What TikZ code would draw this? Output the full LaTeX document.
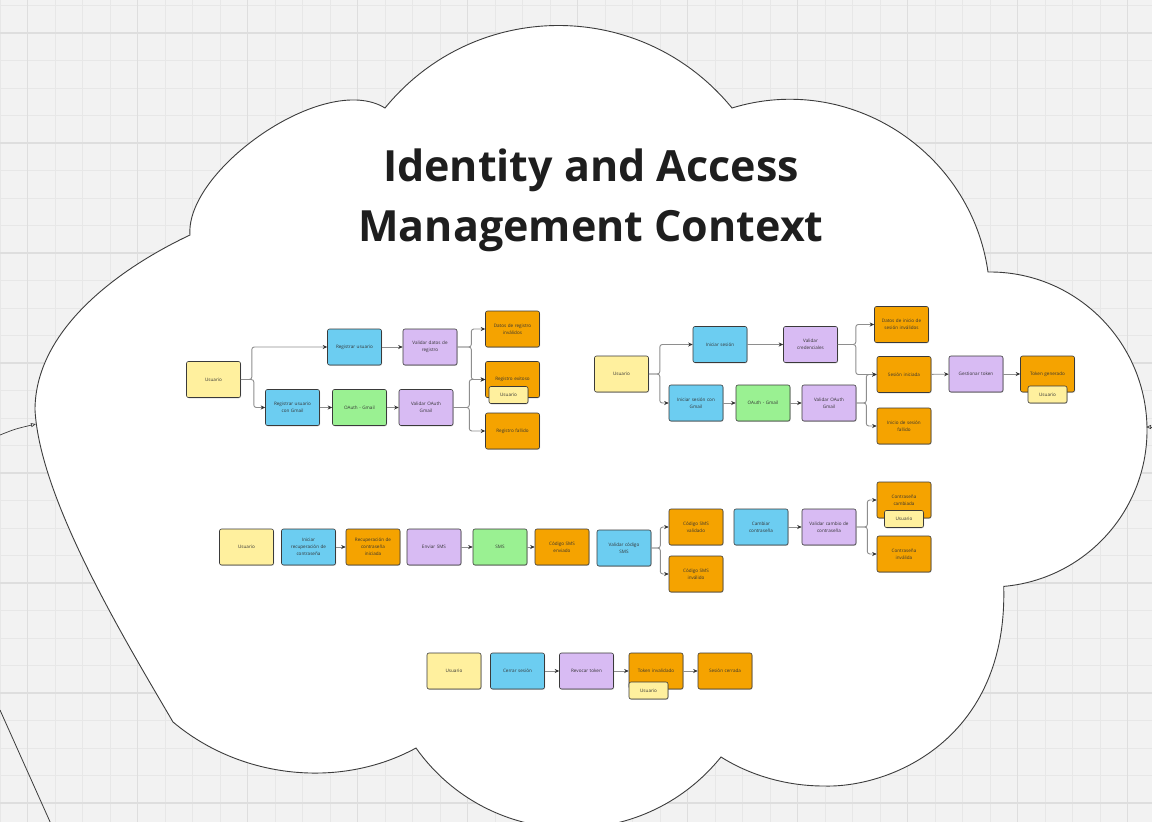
\documentclass[tikz,border=0pt]{standalone}
\usepackage{fontspec}
\setmainfont{Open Sans}
\usetikzlibrary{arrows.meta,shadows}
\definecolor{bgc}{HTML}{F2F2F2}
\definecolor{gridc}{HTML}{E7E7E7}
\definecolor{gridm}{HTML}{DEDEDE}
\definecolor{cloudc}{HTML}{3C3C3C}
\definecolor{titlec}{HTML}{1E1E1E}
\definecolor{boxline}{HTML}{3A3A3A}
\definecolor{txtc}{HTML}{333333}
\definecolor{yellowc}{HTML}{FFF09E}
\definecolor{bluec}{HTML}{6CCDF1}
\definecolor{greenc}{HTML}{9AF192}
\definecolor{purplec}{HTML}{D8BBF3}
\definecolor{orangec}{HTML}{F5A300}
\definecolor{linec}{HTML}{8E8E8E}
\definecolor{arrowc}{HTML}{333333}
\newcommand{\boxfnt}{\fontsize{4.6}{6.8}\selectfont}
\newcommand{\titlefnt}{\fontsize{43}{52}\selectfont\bfseries}
\tikzset{
  card/.style={draw=boxline, line width=0.6pt, rounded corners=2pt,
    minimum width=54pt, minimum height=36pt, text width=48pt, align=center,
    inner sep=0pt, font=\boxfnt, text=txtc,
    drop shadow={shadow xshift=0.5pt, shadow yshift=-0.8pt, fill=black, opacity=0.22}},
  ucard/.style={card, fill=yellowc},
  bcard/.style={card, fill=bluec},
  gcard/.style={card, fill=greenc},
  pcard/.style={card, fill=purplec},
  ocard/.style={card, fill=orangec},
  sticky/.style={card, fill=yellowc, minimum width=39pt, minimum height=17pt, text width=36pt},
  conn/.style={draw=linec, line width=0.9pt, rounded corners=2.5pt,
    -{Stealth[length=4.5pt,width=4pt,color=arrowc]}},
  ext/.style={draw=cloudc, line width=0.7pt, -{Triangle[open,length=5pt,width=4pt]}},
  titletext/.style={font=\titlefnt, text=titlec, anchor=base, inner sep=0pt}
}
\begin{document}
\begin{tikzpicture}[x=1pt,y=-1pt]
\useasboundingbox (0,0) rectangle (1152,822);
\clip (0,0) rectangle (1152,822);
\fill[bgc] (0,0) rectangle (1152,822);
\foreach \i in {0,...,42} \draw[gridc, line width=0.8pt] (\i*27.5,0) -- (\i*27.5,822);
\foreach \j in {0,...,30} \draw[gridc, line width=0.8pt] (0,5.5+\j*27.5) -- (1152,5.5+\j*27.5);
\foreach \i in {0,...,10} \draw[gridm, line width=1.2pt] (27.5+\i*110,0) -- (27.5+\i*110,822);
\foreach \j in {0,...,7} \draw[gridm, line width=1.2pt] (0,33+\j*110) -- (1152,33+\j*110);

% cloud
\draw[cloudc, line width=0.9pt, fill=white]
  (385,108) .. controls (475,-2) and (642,-2) .. (732,108)
  .. controls (849,72) and (971,151) .. (988,272)
  .. controls (1072.6,271) and (1142.4,337.3) .. (1146.8,421.8)
  .. controls (1151.2,506.3) and (1088,579) .. (1003.7,586.4)
  .. controls (1008,740) and (890,788) .. (824,786)
  .. controls (779,786) and (743,771) .. (721,757)
  .. controls (641.4,855.6) and (489.4,851.3) .. (416,748)
  .. controls (342,788.5) and (242,780) .. (173,722)
  .. controls (125,640) and (40,500) .. (35,410)
  .. controls (35,330) and (118,269) .. (190,235)
  .. controls (185,170) and (325,71) .. (385,108) -- cycle;

% external connectors
\coordinate (extL) at (0,435);
\coordinate (cloudL) at (36,424);
\draw[ext] (extL) .. controls (15,429) .. (cloudL);
\coordinate (extR) at (1153,427);
\coordinate (cloudR) at (1146,427);
\draw[ext] (extR) -- (cloudR);
\coordinate (lnA) at (0,710);
\coordinate (lnB) at (51,824);
\draw[cloudc, line width=0.8pt] (lnA) -- (lnB);

% title
\node[titletext] (t1) at (591,181) {Identity and Access};
\node[titletext] (t2) at (591,241) {Management Context};

% ---- top-left group
\node[ucard] (tlU) at (213.5,379.5) {Usuario};
\node[bcard] (tlR1) at (354.5,347) {Registrar usuario};
\node[pcard] (tlV1) at (430,347) {Validar datos de\\registro};
\node[ocard] (tlD) at (512.5,329) {Datos de registro\\inválidos};
\node[ocard] (tlE) at (512.5,379.5) {Registro exitoso};
\node[sticky] (tlEs) at (508.5,395) {Usuario};
\node[bcard] (tlR2) at (292.5,407.5) {Registrar usuario\\con Gmail};
\node[gcard] (tlO) at (359.5,407.5) {OAuth - Gmail};
\node[pcard] (tlV2) at (426,407.5) {Validar OAuth\\Gmail};
\node[ocard] (tlF) at (512.5,431) {Registro fallido};

\draw[conn] (tlU.east) -- ++(11,0) |- (tlR1.west);
\draw[conn] (tlU.east) -- ++(13,0) |- (tlR2.west);
\draw[conn] (tlR1) -- (tlV1);
\draw[conn] (tlR2) -- (tlO);
\draw[conn] (tlO) -- (tlV2);
\draw[conn] (tlV1.east) -- ++(14,0) |- (tlD.west);
\draw[conn] (tlV1.east) -- ++(14,0) |- (tlE.west);
\draw[conn] (tlV2.east) -- ++(16,0) |- (tlE.west);
\draw[conn] (tlV2.east) -- ++(16,0) |- (tlF.west);

% ---- top-right group
\node[ucard] (trU) at (621.5,374) {Usuario};
\node[bcard] (trI1) at (720,344.5) {Iniciar sesión};
\node[pcard] (trV1) at (810.5,344.5) {Validar\\credenciales};
\node[ocard] (trD) at (901.5,324.5) {Datos de inicio de\\sesión inválidos};
\node[ocard] (trS) at (904,374.5) {Sesión iniciada};
\node[pcard] (trG) at (976,374) {Gestionar token};
\node[ocard] (trT) at (1047.5,374) {Token generado};
\node[sticky] (trTs) at (1047.5,394.5) {Usuario};
\node[bcard] (trI2) at (696,403) {Iniciar sesión con\\Gmail};
\node[gcard] (trO) at (763,403) {OAuth - Gmail};
\node[pcard] (trV2) at (829,403) {Validar OAuth\\Gmail};
\node[ocard] (trF) at (904,426) {Inicio de sesión\\fallido};

\draw[conn] (trU.east) -- ++(11,0) |- (trI1.west);
\draw[conn] (trU.east) -- ++(11,0) |- (trI2.west);
\draw[conn] (trI1) -- (trV1);
\draw[conn] (trI2) -- (trO);
\draw[conn] (trO) -- (trV2);
\draw[conn] (trV1.east) -- ++(18,0) |- (trD.west);
\draw[conn] (trV1.east) -- ++(18,0) |- (trS.west);
\draw[conn] (trV2.east) -- ++(10,0) |- (trS.west);
\draw[conn] (trV2.east) -- ++(10,0) |- (trF.west);
\draw[conn] (trS) -- (trG);
\draw[conn] (trG) -- (trT);

% ---- middle row
\node[ucard] (mU) at (246.5,547) {Usuario};
\node[bcard] (mI) at (308.5,547) {Iniciar\\recuperación de\\contraseña};
\node[ocard] (mR) at (373,547) {Recuperación de\\contraseña\\iniciada};
\node[pcard] (mE) at (434,547) {Enviar SMS};
\node[gcard] (mS) at (500,547) {SMS};
\node[ocard] (mC) at (562,547) {Código SMS\\enviado};
\node[bcard] (mV) at (624,548) {Validar código\\SMS};
\node[ocard] (mCv) at (696,527) {Código SMS\\validado};
\node[ocard] (mCi) at (696,574) {Código SMS\\inválido};
\node[bcard] (mCam) at (761,527) {Cambiar\\contraseña};
\node[pcard] (mVc) at (829,527) {Validar cambio de\\contraseña};
\node[ocard] (mPc) at (904,500) {Contraseña\\cambiada};
\node[sticky] (mPcs) at (904,519) {Usuario};
\node[ocard] (mPi) at (904,554) {Contraseña\\inválida};

\draw[conn] (mI) -- (mR);
\draw[conn] (mE) -- (mS);
\draw[conn] (mS) -- (mC);
\draw[conn] (mV.east) -- ++(9,0) |- (mCv.west);
\draw[conn] (mV.east) -- ++(9,0) |- (mCi.west);
\draw[conn] (mCam) -- (mVc);
\draw[conn] (mVc.east) -- ++(11,0) |- (mPc.west);
\draw[conn] (mVc.east) -- ++(11,0) |- (mPi.west);

% ---- bottom row
\node[ucard] (bU) at (454,671) {Usuario};
\node[bcard] (bC) at (517.5,671) {Cerrar sesión};
\node[pcard] (bR) at (586.5,671) {Revocar token};
\node[ocard] (bT) at (656,671) {Token invalidado};
\node[sticky] (bTs) at (648.5,690.5) {Usuario};
\node[ocard] (bS) at (725,671) {Sesión cerrada};

\draw[conn] (bC) -- (bR);
\draw[conn] (bR) -- (bT);
\draw[conn] (bT) -- (bS);
\end{tikzpicture}
\end{document}
